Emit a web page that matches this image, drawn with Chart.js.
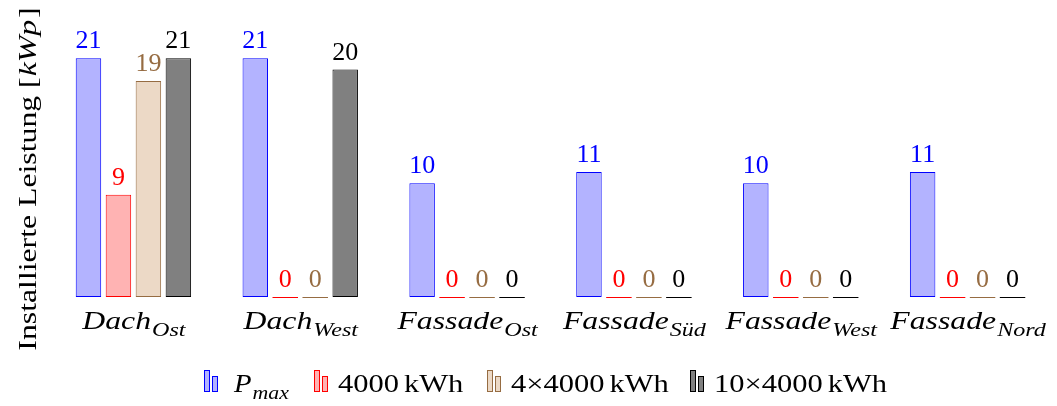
<!DOCTYPE html>
<html>
<head>
<meta charset="utf-8">
<script src="https://cdn.jsdelivr.net/npm/chart.js@4"></script>
<style>
  html, body { margin: 0; padding: 0; background: #fff; }
  #wrap { width: 1057px; height: 406px; }
</style>
</head>
<body>
<div id="wrap"><canvas id="barChart"></canvas></div>
<script>
// data
const catMain = ['Dach', 'Dach', 'Fassade', 'Fassade', 'Fassade', 'Fassade'];
const catSub = ['Ost', 'West', 'Ost', 'Süd', 'West', 'Nord'];
const pMax = [21, 21, 10, 11, 10, 11];
const kwh4000 = [9, 0, 0, 0, 0, 0];
const kwh4x4000 = [19, 0, 0, 0, 0, 0];
const kwh10x4000 = [21, 20, 0, 0, 0, 0];

const serif = '"Liberation Serif", "DejaVu Serif", serif';
const BROWN = 'rgb(150,108,66)';

const series = [
  { label: ['P', 'max'], data: pMax, fill: '#b3b3ff', line: '#0000ff', text: '#0000ff' },
  { label: ['4000 kWh'], data: kwh4000, fill: '#ffb3b3', line: '#ff0000', text: '#ff0000' },
  { label: ['4×4000 kWh'], data: kwh4x4000, fill: '#ecd9c6', line: BROWN, text: BROWN },
  { label: ['10×4000 kWh'], data: kwh10x4000, fill: '#808080', line: '#000000', text: '#000000' }
];

// text stretched horizontally (Computer Modern is wider than Times)
function wide(ctx, str, x, y, font, sx) {
  ctx.font = font;
  const w = ctx.measureText(str).width * sx;
  ctx.save();
  ctx.translate(x, y);
  ctx.scale(sx, 1);
  ctx.textAlign = 'left';
  ctx.textBaseline = 'alphabetic';
  ctx.fillText(str, 0, 0);
  ctx.restore();
  return w;
}
function measure(ctx, str, font, sx) {
  ctx.font = font;
  return ctx.measureText(str).width * sx;
}

// main text + subscript
function subText(ctx, main, sub, x, y, size, align, sx) {
  const mf = 'italic ' + size + 'px ' + serif;
  const sf = 'italic ' + Math.round(size * 0.74) + 'px ' + serif;
  const w1 = measure(ctx, main, mf, sx);
  const w2 = measure(ctx, sub, sf, sx);
  const x0 = align === 'center' ? x - (w1 + w2) / 2 : x;
  wide(ctx, main, x0, y, mf, sx);
  wide(ctx, sub, x0 + w1 + 1, y + size * 0.26, sf, sx);
}

const extras = {
  id: 'extras',
  afterDatasetsDraw(chart) {
    const ctx = chart.ctx;
    ctx.save();
    // zero bars as a line, value labels
    chart.data.datasets.forEach((ds, di) => {
      const meta = chart.getDatasetMeta(di);
      meta.data.forEach((bar, i) => {
        const v = ds.data[i];
        if (v === 0) {
          ctx.strokeStyle = ds.borderColor;
          ctx.lineWidth = 1;
          ctx.beginPath();
          ctx.moveTo(bar.x - bar.width / 2, bar.base + 0.5);
          ctx.lineTo(bar.x + bar.width / 2, bar.base + 0.5);
          ctx.stroke();
        }
        ctx.fillStyle = series[di].text;
        ctx.font = '26px ' + serif;
        ctx.textAlign = 'center';
        ctx.textBaseline = 'alphabetic';
        ctx.fillText(String(v), bar.x, bar.y - 10);
      });
    });
    // category labels
    const xs = chart.scales.x;
    ctx.fillStyle = '#000';
    catMain.forEach((m, i) => {
      subText(ctx, m, catSub[i], xs.getPixelForValue(i), 329, 25, 'center', 1.27);
    });
    // y title
    ctx.save();
    ctx.translate(36, 179);
    ctx.rotate(-Math.PI / 2);
    const up = '25px ' + serif, it = 'italic 25px ' + serif, ysx = 1.27;
    const p1 = 'Installierte Leistung [', p2 = 'kWp', p3 = ']';
    const w1 = measure(ctx, p1, up, ysx), w2 = measure(ctx, p2, it, ysx) + 3, w3 = measure(ctx, p3, up, ysx);
    const x0 = -(w1 + w2 + w3) / 2;
    wide(ctx, p1, x0, 0, up, ysx);
    wide(ctx, p2, x0 + w1 + 1, 0, it, ysx);
    wide(ctx, p3, x0 + w1 + w2, 0, up, ysx);
    ctx.restore();
    // legend
    const legendX = [204, 314, 487, 690];
    const ly = 392;
    series.forEach((s, i) => {
      const x = legendX[i];
      ctx.fillStyle = s.fill;
      ctx.strokeStyle = s.line;
      ctx.lineWidth = 1;
      ctx.fillRect(x + 0.5, ly - 21.5, 5, 21);
      ctx.strokeRect(x + 0.5, ly - 21.5, 5, 21);
      ctx.fillRect(x + 8.5, ly - 15.5, 5, 15);
      ctx.strokeRect(x + 8.5, ly - 15.5, 5, 15);
      ctx.fillStyle = '#000';
      if (s.label.length > 1) {
        subText(ctx, s.label[0], s.label[1], x + 30, ly, 25, 'left', 1.15);
      } else {
        // number part and unit with a thin space
        const parts = s.label[0].split(' ');
        const f = '25px ' + serif;
        const w = wide(ctx, parts[0], x + 24, ly, f, 1.22);
        wide(ctx, parts[1], x + 24 + w + 5, ly, f, 1.22);
      }
    });
    ctx.restore();
  }
};

new Chart(document.getElementById('barChart'), {
  type: 'bar',
  data: {
    labels: catSub,
    datasets: series.map(s => ({
      label: s.label.join(''),
      data: s.data,
      backgroundColor: s.fill,
      borderColor: s.line,
      borderWidth: 1,
      borderSkipped: false,
      categoryPercentage: 0.7186,
      barPercentage: 0.85
    }))
  },
  options: {
    responsive: true,
    maintainAspectRatio: false,
    animation: false,
    layout: { padding: { left: 50, right: 6, top: 24, bottom: 109 } },
    plugins: { legend: { display: false }, tooltip: { enabled: false } },
    scales: {
      x: { display: false },
      y: { display: false, min: 0, max: 24 }
    }
  },
  plugins: [extras]
});
</script>
</body>
</html>
